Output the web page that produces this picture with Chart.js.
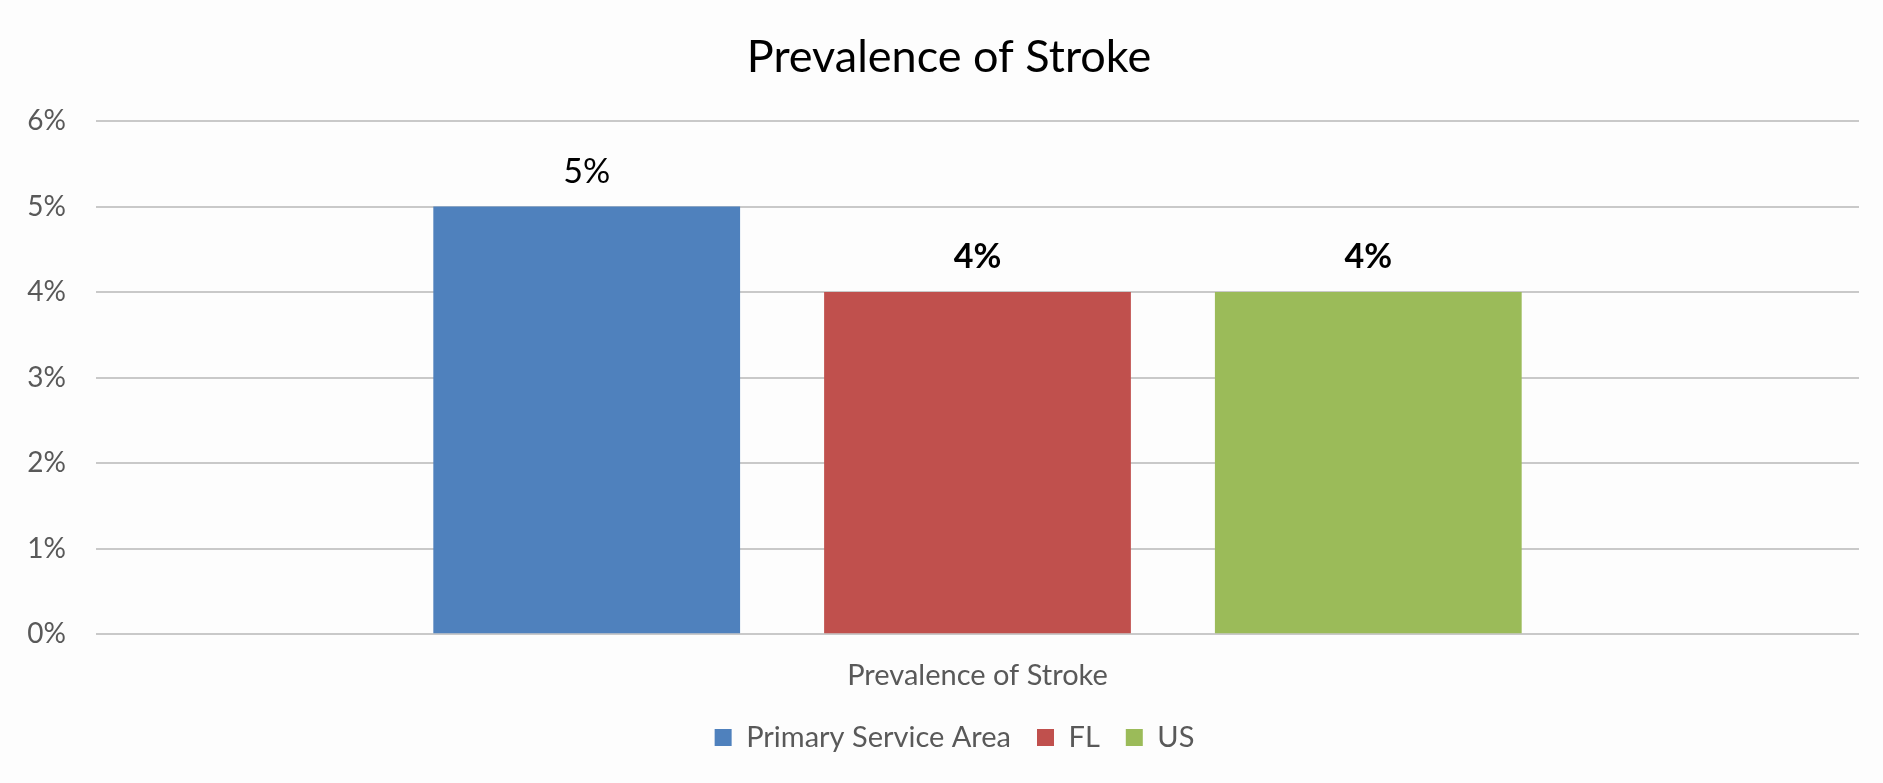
<!DOCTYPE html>
<html>
<head>
<meta charset="utf-8">
<script src="https://cdn.jsdelivr.net/npm/chart.js@4"></script>
<style>
  html, body { margin: 0; padding: 0; background: #fdfdfd; }
  #wrap { width: 1883px; height: 783px; }
</style>
</head>
<body>
<div id="wrap"><canvas id="Chart1"></canvas></div>
<script>
// data
const categories = ['Prevalence of Stroke'];
const seriesNames = ['Primary Service Area', 'FL', 'US'];
const primaryArea = [0.05];
const flValues = [0.04];
const usValues = [0.04];
const yTicks = [0, 0.01, 0.02, 0.03, 0.04, 0.05, 0.06];
const labelBold = [false, true, true];

const colors = ['#4F81BD', '#C0504D', '#9BBB59'];
const fontFamily = 'Lato, "Open Sans", "Liberation Sans", sans-serif';

// draws the value above each bar
const valueLabels = {
  id: 'valueLabels',
  afterDatasetsDraw(chart) {
    const ctx = chart.ctx;
    ctx.save();
    ctx.textAlign = 'center';
    ctx.textBaseline = 'middle';
    ctx.fillStyle = '#000000';
    chart.data.datasets.forEach((ds, i) => {
      const meta = chart.getDatasetMeta(i);
      meta.data.forEach((bar, j) => {
        ctx.font = (labelBold[i] ? 'bold ' : '') + '34px ' + fontFamily;
        ctx.fillText(Math.round(ds.data[j] * 100) + '%', bar.x, bar.y - 35);
      });
    });
    ctx.restore();
  }
};

// title and legend sit a little right of the canvas centre in the original
const nudgeBoxes = {
  id: 'nudgeBoxes',
  afterLayout(chart) {
    if (chart.titleBlock) chart.titleBlock.left += 25;
    if (chart.legend) chart.legend.left += 36;
  }
};

function renderChart() {
  const ctx = document.getElementById('Chart1').getContext('2d');
  new Chart(ctx, {
    type: 'bar',
    data: {
      labels: categories,
      datasets: [
        { label: seriesNames[0], data: primaryArea, backgroundColor: colors[0] },
        { label: seriesNames[1], data: flValues, backgroundColor: colors[1] },
        { label: seriesNames[2], data: usValues, backgroundColor: colors[2] }
      ]
    },
    options: {
      responsive: true,
      maintainAspectRatio: false,
      animation: false,
      datasets: {
        bar: { categoryPercentage: 0.665, barPercentage: 0.785 }
      },
      layout: { padding: { left: 14, right: 24, top: 0, bottom: 21 } },
      plugins: {
        title: {
          display: true,
          text: 'Prevalence of Stroke',
          color: '#000000',
          font: { family: fontFamily, size: 45, weight: 'normal' },
          padding: { top: 30, bottom: 37 }
        },
        legend: {
          position: 'bottom',
          labels: {
            color: '#595959',
            font: { family: fontFamily, size: 29 },
            boxWidth: 17,
            boxHeight: 17,
            padding: 26
          }
        },
        tooltip: { enabled: false }
      },
      scales: {
        x: {
          afterFit(axis) {
            axis.height = axis.height - 12;
          },
          grid: { display: false },
          border: { display: false },
          ticks: {
            color: '#595959',
            font: { family: fontFamily, size: 29 },
            padding: 16
          }
        },
        y: {
          min: 0,
          max: 0.06,
          afterBuildTicks(axis) {
            axis.ticks = yTicks.map(v => ({ value: v }));
          },
          afterFit(axis) {
            axis.width = 82;
          },
          grid: { color: '#c9c9c9', lineWidth: 2, drawTicks: false },
          border: { display: false },
          ticks: {
            color: '#595959',
            font: { family: fontFamily, size: 28 },
            padding: 30,
            callback: v => Math.round(v * 100) + '%'
          }
        }
      }
    },
    plugins: [valueLabels, nudgeBoxes]
  });
}

document.addEventListener('DOMContentLoaded', renderChart);
</script>
</body>
</html>
